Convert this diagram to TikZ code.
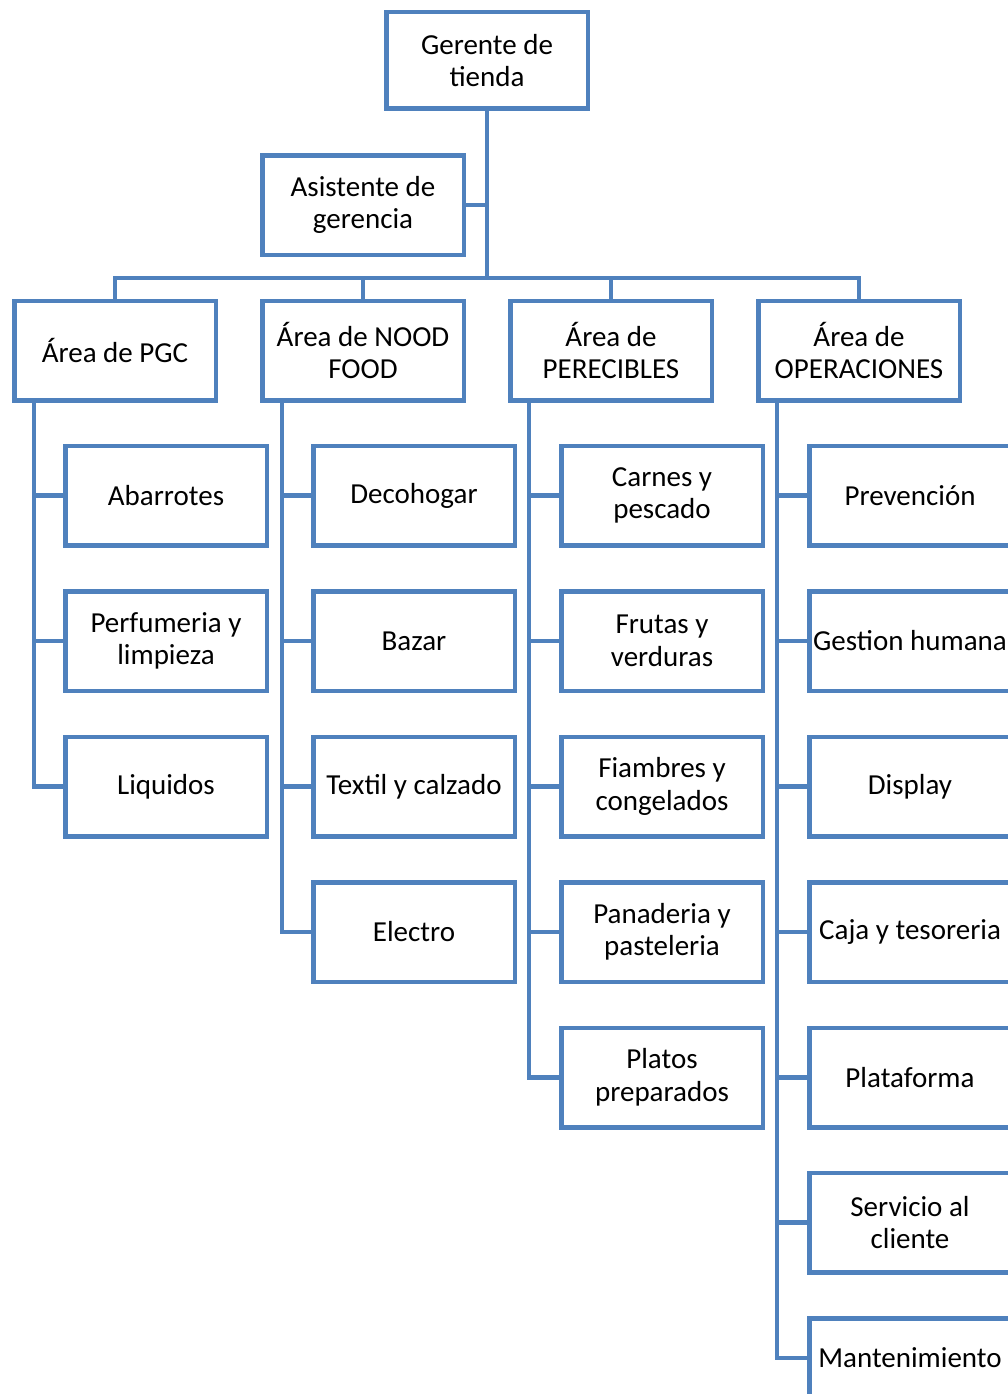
\documentclass[tikz,border=0pt]{standalone}
\usepackage{fontspec}
\setmainfont{Carlito}
\usetikzlibrary{calc}
\definecolor{orgblue}{HTML}{4F81BD}
\tikzset{
  unit/.style={draw=orgblue, line width=4.5pt, fill=white, minimum width=201.5pt,
    minimum height=99.5pt, align=center, inner sep=2pt,
    font=\fontsize{29}{32.5}\selectfont},
  link/.style={draw=orgblue, line width=4.5pt},
}

\begin{document}
\begin{tikzpicture}[x=1pt,y=-1pt]
      \useasboundingbox (0,0) rectangle (1008,1394);
      \clip (0,0) rectangle (1008,1394);

      % top of the chart
      \node[unit, minimum height=96.5pt] (ger) at (487,60.5) {Gerente de\\tienda};
      \node[unit] (asis) at (363,205) {Asistente de\\gerencia};
      \coordinate (bar) at (487,278);

      % areas
      \node[unit] (pgc) at (115,350.5) {Área de PGC};
      \node[unit] (nood) at (363,350.5) {Área de NOOD\\FOOD};
      \node[unit] (perec) at (611,350.5) {Área de\\PERECIBLES};
      \node[unit] (oper) at (859,350.5) {Área de\\OPERACIONES};

      % PGC
      \node[unit] (abar) at (166,495.5) {Abarrotes};
      \node[unit] (perf) at (166,641) {Perfumeria y\\limpieza};
      \node[unit] (liq) at (166,786.5) {Liquidos};

      % NOOD FOOD
      \node[unit] (deco) at (414,495.5) {Decohogar};
      \node[unit] (bazar) at (414,641) {Bazar};
      \node[unit] (textil) at (414,786.5) {Textil y calzado};
      \node[unit] (electro) at (414,932) {Electro};

      % PERECIBLES
      \node[unit] (carnes) at (662,495.5) {Carnes y\\pescado};
      \node[unit] (frutas) at (662,641) {Frutas y\\verduras};
      \node[unit] (fiamb) at (662,786.5) {Fiambres y\\congelados};
      \node[unit] (pan) at (662,932) {Panaderia y\\pasteleria};
      \node[unit] (platos) at (662,1077.5) {Platos\\preparados};

      % OPERACIONES
      \node[unit] (prev) at (910,495.5) {Prevención};
      \node[unit] (gest) at (910,641) {Gestion humana};
      \node[unit] (disp) at (910,786.5) {Display};
      \node[unit] (caja) at (910,932) {Caja y tesoreria};
      \node[unit] (plat) at (910,1077.5) {Plataforma};
      \node[unit] (serv) at (910,1222.5) {Servicio al\\cliente};
      \node[unit] (mant) at (910,1368) {\raisebox{20pt}{Mantenimiento}};

      % links from the top
      \draw[link] (ger) -- (bar);
      \draw[link] (asis.east) -- (asis.east -| bar);
      \draw[link] (pgc.north) |- (bar);
      \draw[link] (nood.north) |- (bar);
      \draw[link] (perec.north) |- (bar);
      \draw[link] (oper.north) |- (bar);

      % spines
      \coordinate (pgcs) at ([xshift=-81pt]pgc.south);
      \coordinate (noods) at ([xshift=-81pt]nood.south);
      \coordinate (perecs) at ([xshift=-82pt]perec.south);
      \coordinate (opers) at ([xshift=-82pt]oper.south);

      \draw[link] (pgcs) |- (liq.west);
      \foreach \n in {abar, perf}
        \draw[link] (\n.west) -- (\n.west -| pgcs);
      \draw[link] (noods) |- (electro.west);
      \foreach \n in {deco, bazar, textil}
        \draw[link] (\n.west) -- (\n.west -| noods);
      \draw[link] (perecs) |- (platos.west);
      \foreach \n in {carnes, frutas, fiamb, pan}
        \draw[link] (\n.west) -- (\n.west -| perecs);
      \draw[link] (opers) |- ([yshift=10pt]mant.west);
      \foreach \n in {prev, gest, disp, caja, plat, serv}
        \draw[link] (\n.west) -- (\n.west -| opers);
\end{tikzpicture}
\end{document}
